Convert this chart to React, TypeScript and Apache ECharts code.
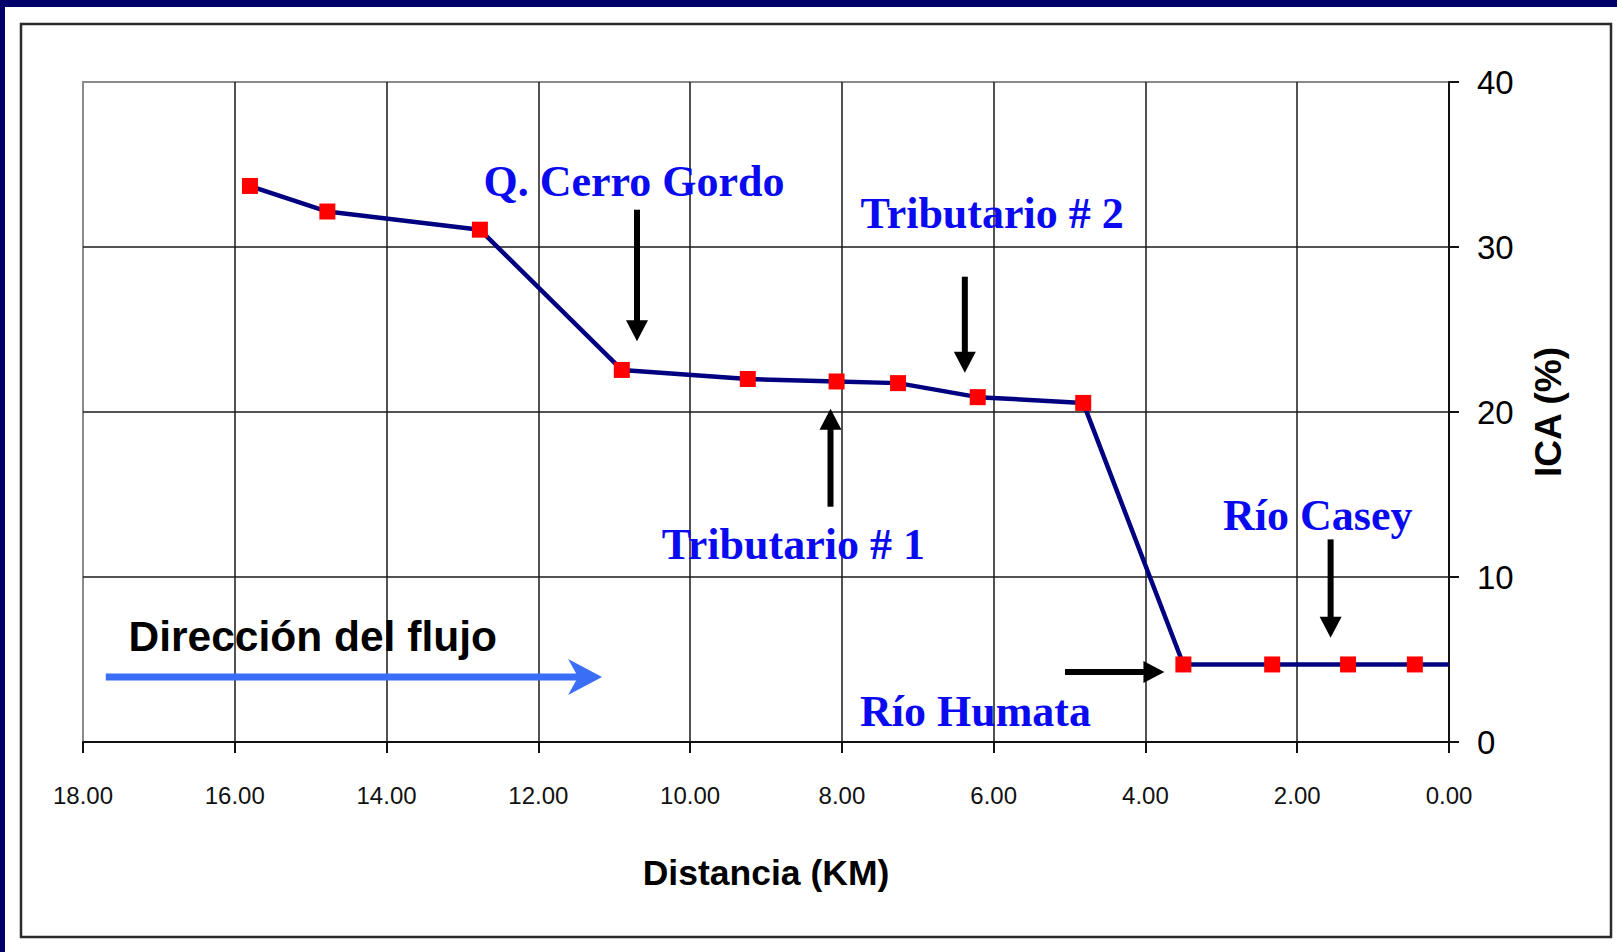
import React, { useEffect, useRef } from "react";
import * as echarts from "echarts";

// Sampling stations along the river: distance upstream of the mouth (km) and water-quality index ICA (%)
const distanceKm = [15.8, 14.78, 12.77, 10.9, 9.24, 8.07, 7.26, 6.21, 4.82, 3.5, 2.33, 1.33, 0.45, 0];
const icaPercent = [33.7, 32.15, 31.05, 22.55, 22.0, 21.85, 21.75, 20.9, 20.55, 4.7, 4.7, 4.7, 4.7, 4.7];
// the last vertex only carries the line to the mouth; it has no station marker
const hasMarker = [true, true, true, true, true, true, true, true, true, true, true, true, true, false];

// Axis ranges
const xRange = [0, 18];
const xStep = 2;
const yRange = [0, 40];
const yStep = 10;

// Tributary / river labels and the arrows pointing at the confluences (data coordinates)
const placeNames = ["Q. Cerro Gordo", "Tributario # 2", "Tributario # 1", "Río Casey", "Río Humata"];
const placeLabelAt = [
  [10.74, 34.0],
  [6.02, 32.06],
  [8.64, 12.0],
  [1.73, 13.7],
  [6.24, 1.82],
];
const arrowFrom = [
  [10.7, 32.26],
  [6.38, 28.2],
  [8.15, 14.26],
  [1.56, 12.28],
  [5.06, 4.25],
];
const arrowTo = [
  [10.7, 24.29],
  [6.38, 22.38],
  [8.15, 20.2],
  [1.56, 6.32],
  [3.75, 4.25],
];

// Flow direction note
const flowText = "Dirección del flujo";
const flowTextAt = [17.4, 6.4];
const flowArrowFrom = [17.7, 3.94];
const flowArrowTo = [11.16, 3.94];

const W = 1617;
const H = 952;

function arrowShapes(
  a: number[],
  b: number[],
  color: string,
  width: number,
  headLen: number,
  headHalf: number,
  notch: number
) {
  const dx = b[0] - a[0];
  const dy = b[1] - a[1];
  const len = Math.hypot(dx, dy);
  const ux = dx / len;
  const uy = dy / len;
  const nx = -uy;
  const ny = ux;
  const baseX = b[0] - ux * headLen;
  const baseY = b[1] - uy * headLen;
  const shaftEndX = b[0] - ux * (headLen - notch - 1);
  const shaftEndY = b[1] - uy * (headLen - notch - 1);
  return [
    {
      type: "line",
      z: 50,
      shape: { x1: a[0], y1: a[1], x2: shaftEndX, y2: shaftEndY },
      style: { stroke: color, lineWidth: width },
    },
    {
      type: "polygon",
      z: 51,
      shape: {
        points: [
          [b[0], b[1]],
          [baseX + nx * headHalf, baseY + ny * headHalf],
          [baseX + ux * notch, baseY + uy * notch],
          [baseX - nx * headHalf, baseY - ny * headHalf],
        ],
      },
      style: { fill: color },
    },
  ];
}

export default function App() {
  const ref = useRef<HTMLDivElement>(null);

  useEffect(() => {
    if (!ref.current) return;
    const chart = echarts.init(ref.current, null, { renderer: "svg" });

    const seriesData = distanceKm.map((d, i) =>
      hasMarker[i]
        ? [d, icaPercent[i]]
        : { value: [d, icaPercent[i]], symbol: "none" }
    );

    chart.setOption({
      animation: false,
      backgroundColor: "#ffffff",
      grid: {
        left: 83,
        top: 82,
        width: 1366,
        height: 660,
        show: true,
        borderColor: "#8a8a8a",
        borderWidth: 2,
        backgroundColor: "transparent",
      },
      xAxis: {
        type: "value",
        inverse: true,
        min: xRange[0],
        max: xRange[1],
        interval: xStep,
        position: "bottom",
        name: "Distancia (KM)",
        nameLocation: "middle",
        nameGap: 113,
        nameTextStyle: {
          fontFamily: "Liberation Sans",
          fontWeight: "bold",
          fontSize: 35.5,
          color: "#000",
        },
        axisLine: { show: true, lineStyle: { color: "#111", width: 2 } },
        axisTick: { show: true, length: 11, lineStyle: { color: "#111", width: 2 } },
        axisLabel: {
          margin: 41,
          fontFamily: "Liberation Sans",
          fontSize: 24,
          color: "#111",
          formatter: (v: number) => v.toFixed(2),
        },
        splitLine: {
          show: true,
          showMinLine: false,
          showMaxLine: false,
          lineStyle: { color: "#1a1a1a", width: 1.5 },
        },
      },
      yAxis: {
        type: "value",
        position: "right",
        min: yRange[0],
        max: yRange[1],
        interval: yStep,
        name: "ICA (%)",
        nameLocation: "middle",
        nameRotate: 90,
        nameGap: 81,
        nameTextStyle: {
          fontFamily: "Liberation Sans",
          fontWeight: "bold",
          fontSize: 37,
          color: "#000",
        },
        axisLine: { show: true, lineStyle: { color: "#111", width: 2 } },
        axisTick: { show: true, length: 10, lineStyle: { color: "#111", width: 2 } },
        axisLabel: {
          margin: 28,
          fontFamily: "Liberation Sans",
          fontSize: 33,
          color: "#000",
        },
        splitLine: {
          show: true,
          showMinLine: false,
          showMaxLine: false,
          lineStyle: { color: "#1a1a1a", width: 1.5 },
        },
      },
      series: [
        {
          type: "line",
          data: seriesData,
          symbol: "rect",
          symbolSize: 16,
          itemStyle: { color: "#ff0000" },
          lineStyle: { color: "#000080", width: 4.5 },
          z: 10,
        },
      ],
    });

    const toPx = (p: number[]) =>
      chart.convertToPixel({ gridIndex: 0 }, p) as number[];

    const graphics: any[] = [
      // slide backdrop: navy strips and the chart frame
      { type: "rect", z: 0, shape: { x: 0, y: 0, width: W, height: 7 }, style: { fill: "#00006a" } },
      { type: "rect", z: 0, shape: { x: 0, y: 0, width: 5, height: H }, style: { fill: "#00006a" } },
      {
        type: "rect",
        z: 0,
        shape: { x: 21, y: 24, width: 1590, height: 913 },
        style: { fill: "none", stroke: "#2a2a2a", lineWidth: 2.5 },
      },
    ];

    placeNames.forEach((name, i) => {
      const p = toPx(placeLabelAt[i]);
      graphics.push({
        type: "text",
        z: 60,
        x: p[0],
        y: p[1],
        style: {
          text: name,
          fontFamily: "Liberation Serif",
          fontWeight: "bold",
          fontSize: 44,
          fill: "#0a0af0",
          align: "center",
          verticalAlign: "middle",
        },
      });
      graphics.push(
        ...arrowShapes(toPx(arrowFrom[i]), toPx(arrowTo[i]), "#000000", 6, 21, 11, 0)
      );
    });

    const ft = toPx(flowTextAt);
    graphics.push({
      type: "text",
      z: 60,
      x: ft[0],
      y: ft[1],
      style: {
        text: flowText,
        fontFamily: "Liberation Sans",
        fontWeight: "bold",
        fontSize: 42.5,
        fill: "#000000",
        align: "left",
        verticalAlign: "middle",
      },
    });
    graphics.push(
      ...arrowShapes(toPx(flowArrowFrom), toPx(flowArrowTo), "#3b6ef6", 7, 34, 18, 10)
    );

    chart.setOption({ graphic: graphics });

    return () => chart.dispose();
  }, []);

  return (
    <div
      ref={ref}
      style={{ position: "absolute", left: 0, top: 0, width: W, height: H }}
    />
  );
}
